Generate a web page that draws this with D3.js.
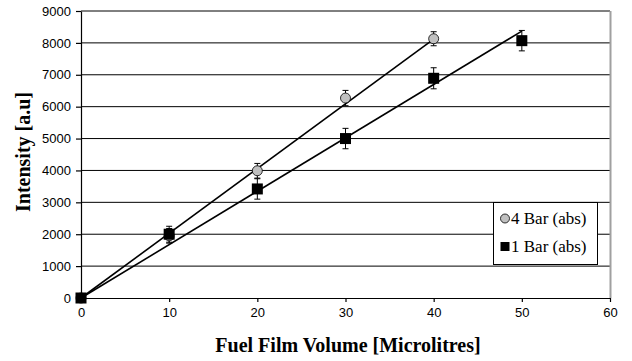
<!DOCTYPE html>
<html><head><meta charset="utf-8">
<script src="https://cdn.jsdelivr.net/npm/d3@7"></script>
<style>body{margin:0;background:#fff}</style>
</head><body>
<svg id="c" width="632" height="361"></svg>
<script>
const volumes4 = [0, 10, 20, 30, 40];
const intensity4 = [0, 1950, 3990, 6270, 8130];
const err4 = [0, 230, 230, 240, 220];
const volumes1 = [0, 10, 20, 30, 40, 50];
const intensity1 = [0, 2000, 3420, 5000, 6890, 8070];
const err1 = [0, 250, 320, 320, 330, 320];
const trend4 = {slope: 203, intercept: 0, xMax: 40};
const trend1 = {slope: 167.4, intercept: 0, xMax: 50};
const xTicks = [0, 10, 20, 30, 40, 50, 60];
const yTicks = [0, 1000, 2000, 3000, 4000, 5000, 6000, 7000, 8000, 9000];
const seriesNames = ["4 Bar (abs)", "1 Bar (abs)"];

const svg = d3.select("#c");
const L = 81, R = 610, T = 11, B = 298;
const x = d3.scaleLinear().domain([0, 60]).range([L, R]);
const y = d3.scaleLinear().domain([0, 9000]).range([B, T]);

// gridlines
svg.append("g").selectAll("line").data(yTicks.filter(d => d > 0)).join("line")
  .attr("x1", L).attr("x2", R).attr("y1", d => y(d)).attr("y2", d => y(d))
  .attr("stroke", "#000").attr("stroke-width", 1);
// right border
svg.append("line").attr("x1", R + 0.5).attr("x2", R + 0.5).attr("y1", T).attr("y2", B)
  .attr("stroke", "#a0a0a0").attr("stroke-width", 2);

// axes
const fmt = d3.format("d");
const xAxis = svg.append("g").attr("transform", `translate(0,${B})`)
  .call(d3.axisBottom(x).tickValues(xTicks).tickFormat(fmt).tickSize(4).tickSizeOuter(0).tickPadding(6));
const yAxis = svg.append("g").attr("transform", `translate(${L},0)`)
  .call(d3.axisLeft(y).tickValues(yTicks).tickFormat(fmt).tickSize(5).tickSizeOuter(0).tickPadding(5));
[xAxis, yAxis].forEach(a => {
  a.selectAll("path,line").attr("stroke", "#000").attr("stroke-width", 1.2);
  a.selectAll("text").attr("font-family", "Liberation Sans, Arial, sans-serif").attr("font-size", 13).attr("fill", "#000");
});

// trend lines
[trend4, trend1].forEach(t => {
  svg.append("line")
    .attr("x1", x(0)).attr("y1", y(t.intercept))
    .attr("x2", x(t.xMax)).attr("y2", y(t.intercept + t.slope * t.xMax))
    .attr("stroke", "#000").attr("stroke-width", 1.6);
});

function errBars(xs, ys, es) {
  const g = svg.append("g").attr("stroke", "#000").attr("stroke-width", 1);
  xs.forEach((v, i) => {
    if (!es[i]) return;
    const cx = x(v);
    g.append("line").attr("x1", cx).attr("x2", cx).attr("y1", y(ys[i] - es[i])).attr("y2", y(ys[i] + es[i]));
    g.append("line").attr("x1", cx - 3).attr("x2", cx + 3).attr("y1", y(ys[i] - es[i])).attr("y2", y(ys[i] - es[i]));
    g.append("line").attr("x1", cx - 3).attr("x2", cx + 3).attr("y1", y(ys[i] + es[i])).attr("y2", y(ys[i] + es[i]));
  });
}
errBars(volumes4, intensity4, err4);
errBars(volumes1, intensity1, err1);

// markers 4 Bar
svg.append("g").selectAll("circle").data(volumes4).join("circle")
  .attr("cx", d => x(d)).attr("cy", (d, i) => y(intensity4[i])).attr("r", 5)
  .attr("fill", "#c0c0c0").attr("stroke", "#000").attr("stroke-width", 0.8);
// markers 1 Bar
svg.append("g").selectAll("rect").data(volumes1).join("rect")
  .attr("x", d => x(d) - 5.5).attr("y", (d, i) => y(intensity1[i]) - 5.5)
  .attr("width", 11).attr("height", 11).attr("fill", "#000");

// legend
const lg = svg.append("g");
lg.append("rect").attr("x", 493.5).attr("y", 202.5).attr("width", 104).attr("height", 62)
  .attr("fill", "#fff").attr("stroke", "#000").attr("stroke-width", 1);
lg.append("circle").attr("cx", 505).attr("cy", 218.5).attr("r", 4.5)
  .attr("fill", "#c0c0c0").attr("stroke", "#000").attr("stroke-width", 0.8);
lg.append("rect").attr("x", 500.5).attr("y", 242).attr("width", 9).attr("height", 9).attr("fill", "#000");
seriesNames.forEach((n, i) => {
  lg.append("text").attr("x", 511).attr("y", 223.5 + i * 28)
    .attr("font-family", "Liberation Serif, Times New Roman, serif").attr("font-size", 17)
    .attr("fill", "#000").text(n);
});

// titles
svg.append("text").attr("x", 348).attr("y", 352).attr("text-anchor", "middle")
  .attr("font-family", "Liberation Serif, Times New Roman, serif").attr("font-weight", "bold")
  .attr("font-size", 20).text("Fuel Film Volume [Microlitres]");
svg.append("text").attr("transform", "translate(30,152) rotate(-90)").attr("text-anchor", "middle")
  .attr("font-family", "Liberation Serif, Times New Roman, serif").attr("font-weight", "bold")
  .attr("font-size", 20).text("Intensity [a.u]");
</script>
</body></html>
